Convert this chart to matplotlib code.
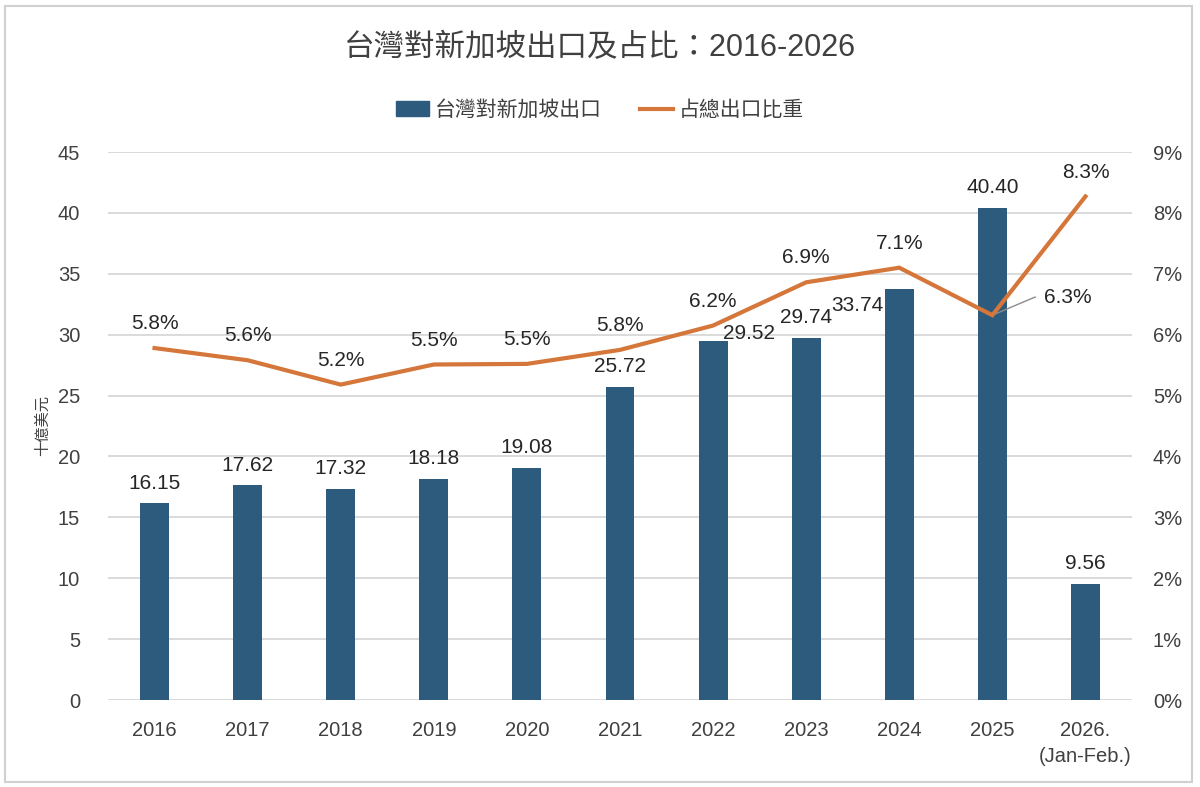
import matplotlib.pyplot as plt
from matplotlib.patches import Patch, Rectangle
from matplotlib.lines import Line2D
import numpy as np

plt.rcParams['font.family'] = ['Liberation Sans', 'Noto Sans CJK TC', 'DejaVu Sans']

# data
years = ["2016", "2017", "2018", "2019", "2020", "2021", "2022", "2023", "2024", "2025",
         "2026.\n(Jan-Feb.)"]
exports = [16.15, 17.62, 17.32, 18.18, 19.08, 25.72, 29.52, 29.74, 33.74, 40.40, 9.56]
share = [5.78, 5.58, 5.18, 5.51, 5.52, 5.75, 6.15, 6.86, 7.10, 6.32, 8.27]
share_labels = ["5.8%", "5.6%", "5.2%", "5.5%", "5.5%", "5.8%", "6.2%", "6.9%", "7.1%", "6.3%", "8.3%"]

bar_color = "#2D5B7D"
line_color = "#D5763A"
text_color = "#262626"
tick_color = "#404040"

fig = plt.figure(figsize=(12, 7.87), dpi=100)
ax = fig.add_axes([108 / 1200, 87 / 787, 1024 / 1200, 548 / 787])
ax2 = ax.twinx()

x = np.arange(len(years))
ax.bar(x, exports, width=0.31, color=bar_color, zorder=2)
ax2.plot(x, share, color=line_color, lw=3, solid_joinstyle='miter', zorder=3)

ax.set_xlim(-0.5, len(years) - 0.5)
ax.set_ylim(0, 45)
ax2.set_ylim(0, 9)
ax.set_yticks(np.arange(0, 46, 5))
ax2.set_yticks(np.arange(0, 10, 1))
ax2.set_yticklabels([f"{v}%" for v in range(10)])
ax.set_xticks(x)
ax.set_xticklabels(years)
ax.get_xticklabels()[-1].set_linespacing(1.45)

ax.grid(axis='y', color='#D4D4D4', lw=1.2, zorder=0)
ax.set_axisbelow(True)
for a in (ax, ax2):
    for s in a.spines.values():
        s.set_visible(False)
ax.tick_params(axis='y', length=0, pad=20, labelsize=14.5, labelcolor=tick_color)
ax.tick_params(axis='x', length=0, pad=15, labelsize=14.5, labelcolor=tick_color)
ax2.tick_params(axis='y', length=0, pad=15, labelsize=14.5, labelcolor=tick_color)

ax.set_ylabel("十億美元", family=['Noto Sans CJK TC'], fontsize=11, color=tick_color, labelpad=5)

# bar value labels (offsets in points)
bar_offsets = {6: (26, 5), 8: (-30, -12)}
for i, v in enumerate(exports):
    dx, dy = bar_offsets.get(i, (0, 14.5))
    ax.annotate(f"{v:.2f}", (x[i], v), xytext=(dx, dy), textcoords='offset points',
                ha='center', va='center', fontsize=15, color=text_color, zorder=5)

# line labels
for i, (v, lab) in enumerate(zip(share, share_labels)):
    if i == 9:
        ax2.annotate(lab, (x[i], v), xytext=(37, 13), textcoords='offset points',
                     ha='left', va='center', fontsize=15, color=text_color,
                     arrowprops=dict(arrowstyle='-', color='#8C8C8C', lw=1,
                                     connectionstyle="angle,angleA=0,angleB=23,rad=0",
                                     relpos=(0, 0.5), shrinkA=4, shrinkB=2))
    else:
        ax2.annotate(lab, (x[i], v), xytext=(0, 17.5), textcoords='offset points',
                     ha='center', va='center', fontsize=15, color=text_color)

fig.text(0.5, 1 - 48 / 787, "台灣對新加坡出口及占比：2016-2026", ha='center', va='center',
         fontsize=22, color=tick_color)

handles = [Patch(color=bar_color), Line2D([0], [0], color=line_color, lw=3)]
fig.legend(handles, ["台灣對新加坡出口", "占總出口比重"], loc='center', ncol=2,
           bbox_to_anchor=(0.5, 1 - 110 / 787), frameon=False, fontsize=15,
           handlelength=1.6, handleheight=0.75, handletextpad=0.3, columnspacing=1.8,
           labelcolor=tick_color)

# outer border
fig.patches.append(Rectangle((5 / 1200, 5 / 787), 1187 / 1200, 776 / 787, transform=fig.transFigure,
                             fill=False, edgecolor='#D0D0D0', lw=1.5))

fig.savefig("out.png", dpi=100)
